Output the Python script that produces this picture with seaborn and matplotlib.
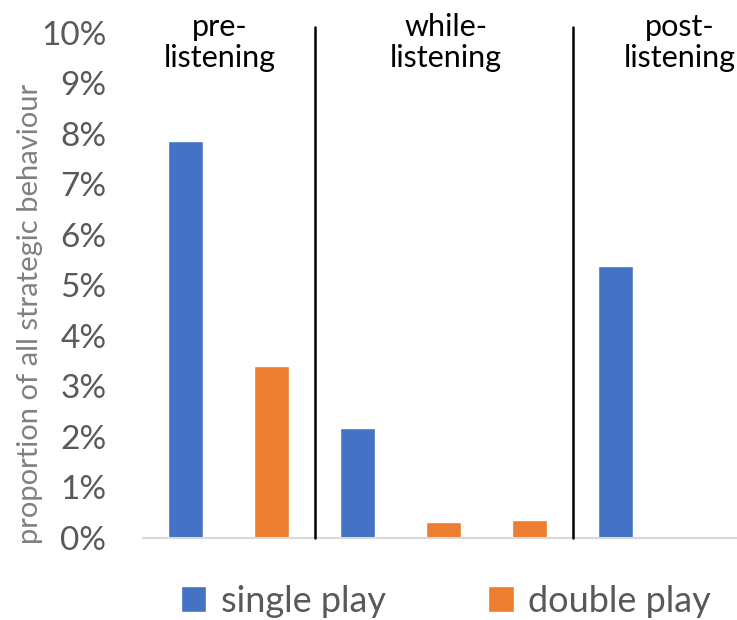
import matplotlib
matplotlib.use("Agg")
import matplotlib.pyplot as plt
import seaborn as sns
import pandas as pd
from matplotlib.patches import Patch
from matplotlib.ticker import FuncFormatter

# Bar slots in phase order and the share of strategic behaviour (%) each one holds
slots = ["s1", "s2", "s3", "s4", "s5", "s6", "s7"]
series = ["single play", "double play", "single play", "double play",
          "double play", "single play", "double play"]
values = [7.86, 3.41, 2.18, 0.31, 0.35, 5.39, 0.0]

phases = ["pre-\nlistening", "while-\nlistening", "post-\nlistening"]
phase_label_x = [0.40, 3.03, 5.75]
phase_dividers = [1.5, 4.5]

colors = {"single play": "#4472C4", "double play": "#ED7D31"}
y_ticks = list(range(0, 11))

sns.set_theme(style="white")
plt.rcParams["font.family"] = ["Lato", "DejaVu Sans"]

df = pd.DataFrame({"slot": slots, "series": series, "value": values})

fig = plt.figure(figsize=(7.37, 6.2), dpi=100)
ax = fig.add_axes([0.1934, 0.1323, 0.8168, 0.8145])

sns.barplot(data=df, x="slot", y="value", hue="series", dodge=False,
            palette=colors, width=0.41, ax=ax, legend=False, saturation=1)

ax.set_xlim(-0.5, 6.5)
ax.set_ylim(0, 10)
ax.set_yticks(y_ticks)
ax.yaxis.set_major_formatter(FuncFormatter(lambda v, _: f"{v:.0f}%"))
ax.tick_params(axis="y", labelsize=24, colors="#595959", length=0, pad=26)
ax.tick_params(axis="x", length=0, labelbottom=False)
ax.set_xlabel("")
ax.set_ylabel("")

for side in ["top", "right", "left"]:
    ax.spines[side].set_visible(False)
ax.spines["bottom"].set_color("#D9D9D9")
ax.spines["bottom"].set_linewidth(1.5)

fig.text(30 / 737, 1 - 314 / 620, "proportion of all strategic behaviour",
         rotation=90, ha="center", va="center", fontsize=21, color="#808080")

# Phase separators and headings
for xd in phase_dividers:
    ax.plot([xd, xd], [0, 10.12], color="black", lw=1.8, clip_on=False, zorder=3)
for label, xp in zip(phases, phase_label_x):
    ax.text(xp, 10.4, label, ha="center", va="top", fontsize=22,
            color="black", linespacing=1.15, clip_on=False)

handles = [Patch(facecolor=colors["single play"], label="single play"),
           Patch(facecolor=colors["double play"], label="double play")]
fig.legend(handles=handles, loc="center", bbox_to_anchor=(0.605, 1 - 601 / 620),
           ncol=2, frameon=False, fontsize=26, labelcolor="#595959",
           handlelength=0.7, handleheight=0.7, handletextpad=0.4,
           columnspacing=2.85)

fig.savefig("out.png", dpi=100)
